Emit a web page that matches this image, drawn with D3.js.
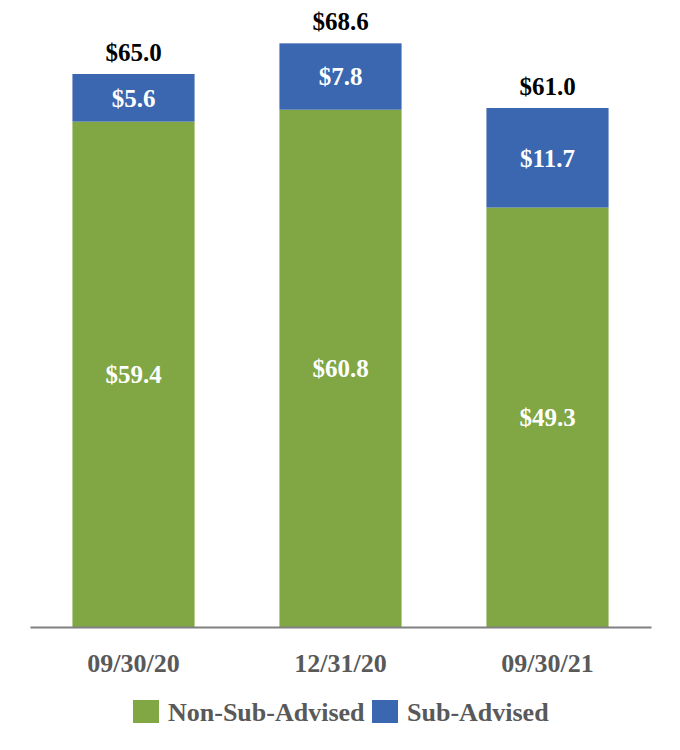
<!DOCTYPE html>
<html>
<head>
<meta charset="utf-8">
<script src="https://cdn.jsdelivr.net/npm/d3@7"></script>
<style>
  body { margin: 0; background: #fff; }
  svg text { font-family: "Liberation Serif", "Times New Roman", serif; font-weight: bold; }
</style>
</head>
<body>
<svg id="chart" width="680" height="750"></svg>
<script>
const categories = ["09/30/20", "12/31/20", "09/30/21"];
const nonSubAdvised = [59.4, 60.8, 49.3];
const subAdvised = [5.6, 7.8, 11.7];
const totals = [65.0, 68.6, 61.0];
const seriesNames = ["Non-Sub-Advised", "Sub-Advised"];

const colors = { "Non-Sub-Advised": "#80a744", "Sub-Advised": "#3a67b0" };

const svg = d3.select("#chart");
const baseY = 627;

// x and y scales
const x = d3.scaleBand()
  .domain(categories)
  .range([30, 651])
  .paddingInner(0.41)
  .paddingOuter(0.205);

const y = d3.scaleLinear().domain([0, 70]).range([baseY, baseY - 70 * 8.508]);

const rows = categories.map((c, i) => ({
  cat: c,
  "Non-Sub-Advised": nonSubAdvised[i],
  "Sub-Advised": subAdvised[i],
  total: totals[i],
}));

const stacked = d3.stack().keys(seriesNames)(rows);

// bars
svg.append("g")
  .selectAll("g")
  .data(stacked)
  .join("g")
  .attr("fill", (d) => colors[d.key])
  .selectAll("rect")
  .data((d) => d)
  .join("rect")
  .attr("x", (d) => x(d.data.cat))
  .attr("width", x.bandwidth())
  .attr("y", (d) => y(d[1]))
  .attr("height", (d) => y(d[0]) - y(d[1]));

// labels inside segments
stacked.forEach((s) => {
  svg.append("g")
    .selectAll("text")
    .data(s)
    .join("text")
    .attr("x", (d) => x(d.data.cat) + x.bandwidth() / 2)
    .attr("y", (d) => (y(d[0]) + y(d[1])) / 2)
    .attr("dy", "0.35em")
    .attr("text-anchor", "middle")
    .attr("fill", "#fff")
    .style("font-size", "25px")
    .text((d) => "$" + (d[1] - d[0]).toFixed(1));
});

// totals
svg.append("g")
  .selectAll("text")
  .data(rows)
  .join("text")
  .attr("x", (d) => x(d.cat) + x.bandwidth() / 2)
  .attr("y", (d) => y(d.total) - 13)
  .attr("text-anchor", "middle")
  .attr("fill", "#000")
  .style("font-size", "25px")
  .text((d) => "$" + d.total.toFixed(1));

// x axis
const xAxis = svg.append("g")
  .attr("transform", `translate(0,${baseY})`)
  .call(d3.axisBottom(x).tickSize(0).tickPadding(27));
xAxis.select(".domain").attr("stroke", "#808080").attr("stroke-width", 2);
xAxis.selectAll("text")
  .attr("fill", "#595959")
  .style("font-size", "26px")
  .style("font-family", "'Liberation Serif', 'Times New Roman', serif")
  .style("font-weight", "bold");

// legend
const legend = svg.append("g").attr("transform", "translate(133,700)");
const legendItems = [
  { name: seriesNames[0], x: 0 },
  { name: seriesNames[1], x: 239 },
];
legendItems.forEach((item) => {
  const g = legend.append("g").attr("transform", `translate(${item.x},0)`);
  g.append("rect").attr("width", 26).attr("height", 23).attr("fill", colors[item.name]);
  g.append("text")
    .attr("x", 35)
    .attr("y", 11.5)
    .attr("dy", "0.35em")
    .attr("fill", "#595959")
    .style("font-size", "26px")
    .text(item.name);
});
</script>
</body>
</html>
